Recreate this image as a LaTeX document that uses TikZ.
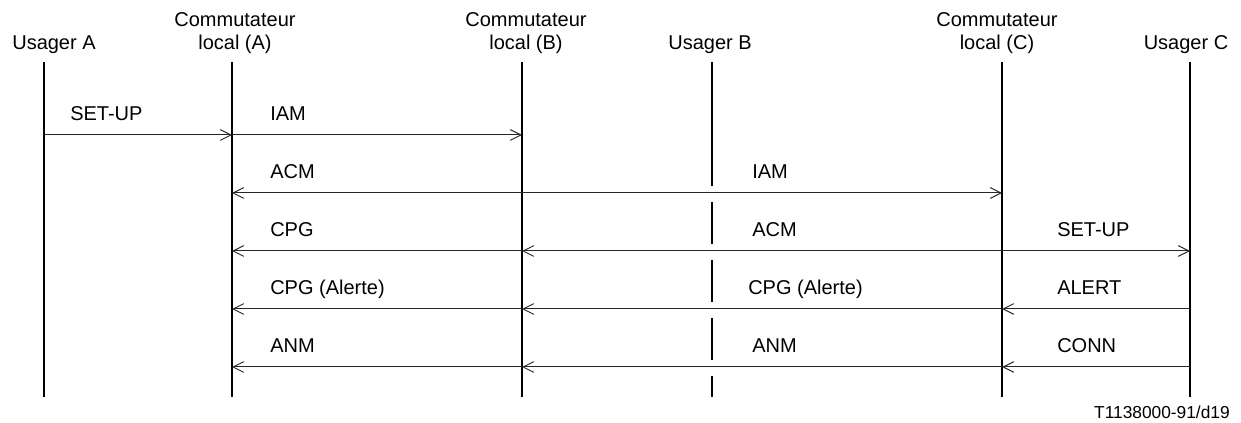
\documentclass[tikz,border=0pt]{standalone}
\usepackage{fontspec}
\setmainfont{Liberation Sans}
\usetikzlibrary{arrows.meta}

\begin{document}
\begin{tikzpicture}[x=0.75pt,y=-0.75pt,
  life/.style={line width=1.5pt},
  msg/.style={line width=0.75pt,black!85,-{Straight Barb[length=8pt,width=8pt]}},
  both/.style={line width=0.75pt,black!85,{Straight Barb[length=8pt,width=8pt]}-{Straight Barb[length=8pt,width=8pt]}},
  lbl/.style={anchor=base west,inner sep=0pt,font=\fontsize{15}{17}\selectfont},
  head/.style={anchor=base,inner sep=0pt,font=\fontsize{15}{17}\selectfont}]
\useasboundingbox (0,0) rectangle (1241,423);
\foreach \n/\x in {ua/44,ca/232,cb/522,ub/712,cc/1002,uc/1190}{
  \coordinate (\n-top) at (\x,62);
  \coordinate (\n-bot) at (\x,397);
  \foreach \r/\y in {1/135,2/193,3/251,4/309,5/367}
    \coordinate (\n-\r) at (\x,\y);
}
\node[head] (ua-h) at (54,50) {Usager A};
\node[head] (ca-h1) at (235,27) {Commutateur};
\node[head] (ca-h2) at (235,50) {local (A)};
\node[head] (cb-h1) at (526,27) {Commutateur};
\node[head] (cb-h2) at (526,50) {local (B)};
\node[head] (ub-h) at (710,50) {Usager B};
\node[head] (cc-h1) at (997,27) {Commutateur};
\node[head] (cc-h2) at (997,50) {local (C)};
\node[head] (uc-h) at (1186,50) {Usager C};
\draw[life] (ua-top) -- (ua-bot);
\draw[life] (ca-top) -- (ca-bot);
\draw[life] (cb-top) -- (cb-bot);
\draw[life] (cc-top) -- (cc-bot);
\draw[life] (uc-top) -- (uc-bot);
\foreach \a/\b in {62/186,202/244,260/302,318/360,376/397}
  \draw[life] (712,\a) -- (712,\b);
\draw[msg] (ua-1) -- (ca-1);
\draw[msg] (ca-1) -- (cb-1);
\draw[both] (ca-2) -- (cc-2);
\draw[msg] (cb-3) -- (ca-3);
\draw[msg] (cc-3) -- (cb-3);
\draw[msg] (cc-3) -- (uc-3);
\draw[msg] (uc-4) -- (cc-4);
\draw[msg] (cc-4) -- (cb-4);
\draw[msg] (cb-4) -- (ca-4);
\draw[msg] (uc-5) -- (cc-5);
\draw[msg] (cc-5) -- (cb-5);
\draw[msg] (cb-5) -- (ca-5);
\node[lbl] (setup1) at (70,121) {SET-UP};
\node[lbl] (iam1) at (270,121) {IAM};
\node[lbl] (acm1) at (270,179) {ACM};
\node[lbl] (iam2) at (752,179) {IAM};
\node[lbl] (cpg1) at (270,237) {CPG};
\node[lbl] (acm2) at (752,237) {ACM};
\node[lbl] (setup2) at (1057,237) {SET-UP};
\node[lbl] (cpga1) at (270,295) {CPG (Alerte)};
\node[lbl] (cpga2) at (748,295) {CPG (Alerte)};
\node[lbl] (alert) at (1057,295) {ALERT};
\node[lbl] (anm1) at (270,353) {ANM};
\node[lbl] (anm2) at (752,353) {ANM};
\node[lbl] (conn) at (1057,353) {CONN};
\node[anchor=base east,inner sep=0pt,font=\fontsize{13}{15}\selectfont] (fig) at (1230,419) {T1138000-91/d19};
\end{tikzpicture}
\end{document}
